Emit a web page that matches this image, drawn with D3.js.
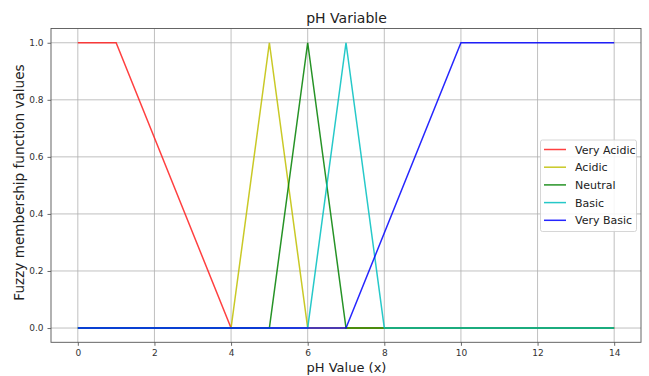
<!DOCTYPE html>
<html><head><meta charset="utf-8">
<script src="https://cdn.jsdelivr.net/npm/d3@7"></script>
<style>body{margin:0;background:#fff}svg{font-family:"DejaVu Sans",sans-serif}</style>
</head><body><svg id="c" width="649" height="376"></svg>
<script>
const seriesNames = ["Very Acidic","Acidic","Neutral","Basic","Very Basic"];
const seriesColors = ["#ff1f1f","#bfbf00","#008000","#00bfbf","#0000ff"];
const veryAcidicX = [0,1,4,14], veryAcidicY = [1,1,0,0];
const acidicX = [0,4,5,6,14], acidicY = [0,0,1,0,0];
const neutralX = [0,5,6,7,14], neutralY = [0,0,1,0,0];
const basicX = [0,6,7,8,14], basicY = [0,0,1,0,0];
const veryBasicX = [0,7,10,14], veryBasicY = [0,0,1,1];
const xTicks = [0,2,4,6,8,10,12,14];
const yTicks = [0,0.2,0.4,0.6,0.8,1.0];

const seriesX = [veryAcidicX, acidicX, neutralX, basicX, veryBasicX];
const seriesY = [veryAcidicY, acidicY, neutralY, basicY, veryBasicY];

const svg = d3.select("#c");
const L=51, R=641, T=28.5, B=342.3;
const x = d3.scaleLinear().domain([-0.7,14.7]).range([L,R]);
const y = d3.scaleLinear().domain([-0.05,1.05]).range([B,T]);

// grid
svg.append("g").selectAll("line").data(xTicks).join("line")
  .attr("x1",d=>x(d)).attr("x2",d=>x(d)).attr("y1",T).attr("y2",B)
  .attr("stroke","#b0b0b0").attr("stroke-width",0.8);
svg.append("g").selectAll("line").data(yTicks).join("line")
  .attr("y1",d=>y(d)).attr("y2",d=>y(d)).attr("x1",L).attr("x2",R)
  .attr("stroke","#b0b0b0").attr("stroke-width",0.8);

// axes
const xa = svg.append("g").attr("transform",`translate(0,${B})`)
  .call(d3.axisBottom(x).tickValues(xTicks).tickFormat(d3.format("d")).tickSize(3.5).tickPadding(4));
const ya = svg.append("g").attr("transform",`translate(${L},0)`)
  .call(d3.axisLeft(y).tickValues(yTicks).tickFormat(d3.format(".1f")).tickSize(3.5).tickPadding(4));
[xa,ya].forEach(a=>{
  a.select(".domain").remove();
  a.selectAll("line").attr("stroke","#444").attr("stroke-width",0.8);
  a.selectAll("text").attr("fill","#333").style("font-size","9px").style("font-family","DejaVu Sans");
});
svg.append("rect").attr("x",L).attr("y",T).attr("width",R-L).attr("height",B-T)
  .attr("fill","none").attr("stroke","#555").attr("stroke-width",0.9);

// lines
const line = d3.line().x(d=>x(d[0])).y(d=>y(d[1]));
seriesNames.forEach((n,i)=>{
  const pts = seriesX[i].map((v,j)=>[v,seriesY[i][j]]);
  svg.append("path").datum(pts).attr("d",line).attr("fill","none")
    .attr("stroke",seriesColors[i]).attr("stroke-width",1.5).attr("opacity",0.85);
});

// titles
svg.append("text").attr("x",346.5).attr("y",23).attr("text-anchor","middle")
  .style("font-size","14px").attr("fill","#222").text("pH Variable");
svg.append("text").attr("x",346.5).attr("y",372).attr("text-anchor","middle")
  .style("font-size","13px").attr("fill","#222").text("pH Value (x)");
svg.append("text").attr("transform",`translate(24,182.5) rotate(-90)`).attr("text-anchor","middle")
  .style("font-size","13.6px").attr("fill","#222").text("Fuzzy membership function values");

// legend
const lg = svg.append("g");
lg.append("rect").attr("x",540.5).attr("y",140).attr("width",96).attr("height",91.5).attr("rx",2)
  .attr("fill","#fff").attr("fill-opacity",0.85).attr("stroke","#ccc").attr("stroke-width",0.8);
seriesNames.forEach((n,i)=>{
  const yy = 149.5 + i*17.7;
  lg.append("line").attr("x1",544).attr("x2",566).attr("y1",yy).attr("y2",yy)
    .attr("stroke",seriesColors[i]).attr("stroke-width",1.5).attr("opacity",0.85);
  lg.append("text").attr("x",575).attr("y",yy+4).style("font-size","11px").attr("fill","#222").text(n);
});
</script></body></html>
